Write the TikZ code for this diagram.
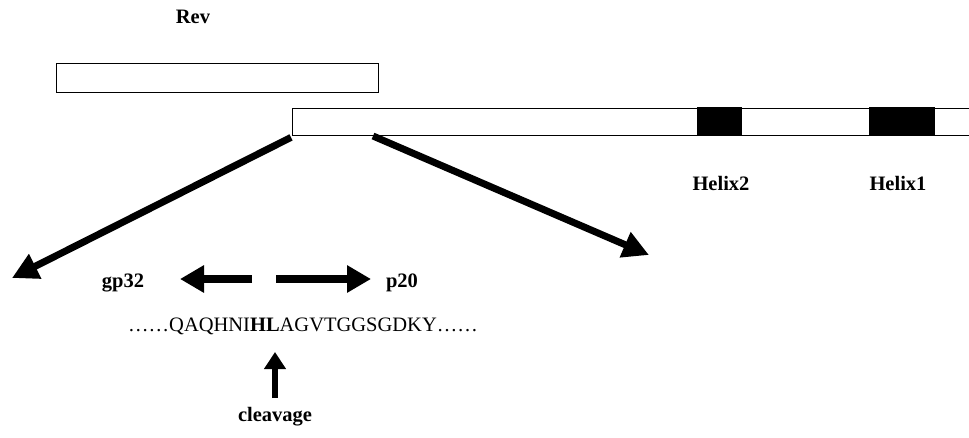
\documentclass[tikz,border=0pt]{standalone}
\usepackage{fontspec}
\setmainfont{Liberation Serif}
\usetikzlibrary{arrows.meta}
\begin{document}
\begin{tikzpicture}[x=1pt,y=-1pt,
  lbl/.style={font=\fontsize{20.5}{24}\selectfont\bfseries, anchor=base, inner sep=0pt},
  seq/.style={font=\fontsize{20.5}{24}\selectfont, anchor=base west, inner sep=0pt},
  boxline/.style={draw, line width=1.4pt},
  bigarrow/.style={line width=7pt, -{Triangle[length=26pt,width=26pt]}},
  hzarrow/.style={line width=8pt, -{Triangle[length=24pt,width=26pt]}},
  uparrow/.style={line width=6pt, -{Triangle[length=17pt,width=21pt]}}]
\clip (0,0) rectangle (969,437);
\fill[white] (0,0) rectangle (969,437);
% Rev box
\node[boxline, minimum width=322pt, minimum height=29pt, inner sep=0pt, anchor=north west] (rev) at (56,63) {};
\node[lbl] (revlbl) at (193,23) {Rev};
% long bar
\node[boxline, minimum width=700pt, minimum height=27pt, inner sep=0pt, anchor=north west] (bar) at (292,108) {};
\node[fill=black, minimum width=45pt, minimum height=29pt, inner sep=0pt, anchor=north west] (h2) at (697,107) {};
\node[fill=black, minimum width=66pt, minimum height=29pt, inner sep=0pt, anchor=north west] (h1) at (869,107) {};
\node[lbl] (h2lbl) at (721,190) {Helix2};
\node[lbl] (h1lbl) at (898,190) {Helix1};
% zoom arrows
\coordinate (ltip) at (12,278);
\coordinate (rtip) at (649,255);
\coordinate (rstart) at (373,136);
\draw[bigarrow] (bar.south west) ++(-1,1) -- (ltip);
\draw[bigarrow] (rstart) -- (rtip);
% labels
\node[lbl] (gp) at (123,287) {gp32};
\node[lbl] (p20) at (402,287) {p20};
\coordinate (la) at (252,279);
\coordinate (lb) at (180,279);
\coordinate (ra) at (276,279);
\coordinate (rb) at (371,279);
\draw[hzarrow] (la) -- (lb);
\draw[hzarrow] (ra) -- (rb);
% sequence
\node[seq] (seqn) at (128,331) {……QAQHNI\textbf{HL}AGVTGGSGDKY……};
% cleavage
\node[lbl] (cl) at (275,421) {cleavage};
\coordinate (cs) at (275,398);
\coordinate (ce) at (275,352);
\draw[uparrow] (cs) -- (ce);
\end{tikzpicture}
\end{document}
